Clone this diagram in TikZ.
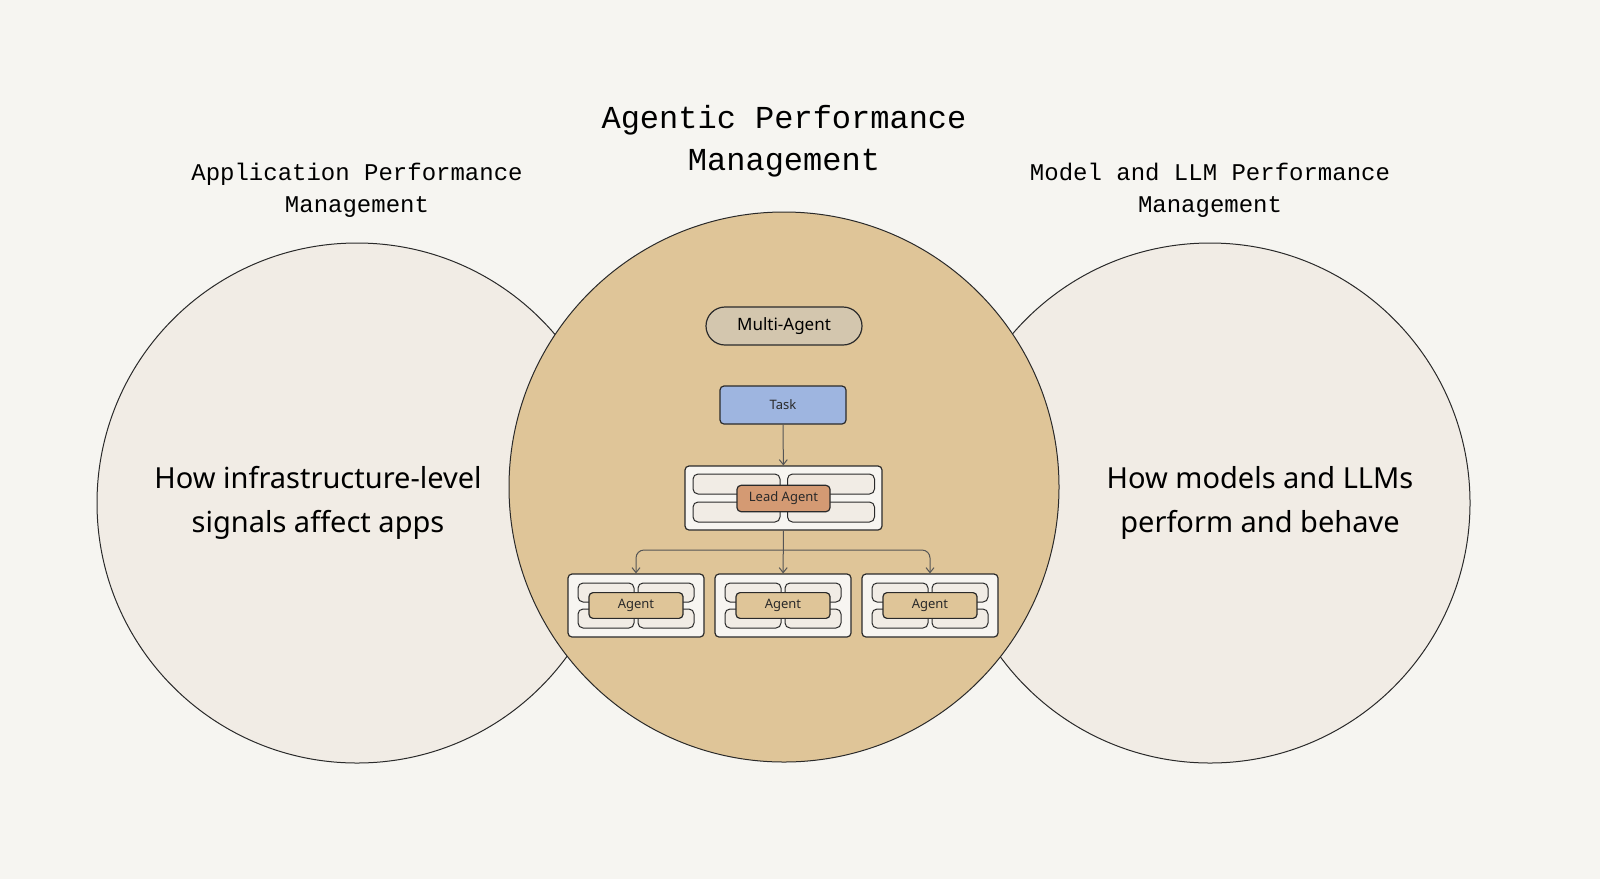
\documentclass[tikz,border=0pt]{standalone}
\usepackage{fontspec}
\setmainfont{Noto Sans}
\newfontfamily\monof{Liberation Mono}
\usetikzlibrary{arrows.meta}
\definecolor{bg}{HTML}{F6F5F1}
\definecolor{side}{HTML}{F1ECE5}
\definecolor{mid}{HTML}{DFC598}
\definecolor{pill}{HTML}{D3C6AE}
\definecolor{task}{HTML}{9EB5E0}
\definecolor{lead}{HTML}{D49A73}
\definecolor{cell}{HTML}{F1ECE5}
\definecolor{cont}{HTML}{F7F5F1}
\definecolor{ln}{HTML}{2A2A2A}
\begin{document}
\begin{tikzpicture}[x=0.5pt,y=-0.5pt,
  circ/.style={draw=ln,line width=0.5pt},
  box/.style={draw=ln,line width=0.6pt,rounded corners=2pt},
  cellb/.style={draw=ln,line width=0.5pt,fill=cell,rounded corners=2.5pt},
  arr/.style={draw=ln!80,line width=0.5pt,-{Straight Barb[length=2.5pt,width=4pt]}},
  small/.style={font=\fontsize{6.5}{8}\selectfont,text=ln}]
\fill[bg] (0,0) rectangle (1600,879);
\useasboundingbox (0,0) rectangle (1600,879);
\node[circ,fill=side,circle,minimum size=260pt] (L) at (357,503) {};
\node[circ,fill=side,circle,minimum size=260pt] (R) at (1210,503) {};
\node[circ,fill=mid,circle,minimum size=275pt] (C) at (784,487) {};
\node[font=\monof\fontsize{16}{21}\selectfont,align=center] (tc) at (784,141) {Agentic Performance\\Management};
\node[font=\monof\fontsize{12}{16}\selectfont,align=center] (tl) at (357,190) {Application Performance\\Management};
\node[font=\monof\fontsize{12}{16}\selectfont,align=center] (tr) at (1210,190) {Model and LLM Performance\\Management};
\node[font=\fontsize{14.5}{22}\selectfont,align=center] (bl) at (318,503) {How infrastructure-level\\signals affect apps};
\node[font=\fontsize{14.5}{22}\selectfont,align=center] (br) at (1260,503) {How models and LLMs\\perform and behave};
\node[draw=ln,line width=0.6pt,fill=pill,rounded corners=9.5pt,minimum width=78pt,minimum height=19pt,font=\fontsize{8.5}{10}\selectfont] (ma) at (784,326) {Multi-Agent};
\node[box,fill=task,minimum width=63pt,minimum height=19pt,small] (task) at (783,405) {Task};
% lead container
\node[box,fill=cont,minimum width=98.5pt,minimum height=32pt] (lc) at (783.5,498) {};
\foreach \cx/\cy in {736.5/484,831/484,736.5/512,831/512}{\draw[cellb] (\cx-43.5,\cy-10) rectangle (\cx+43.5,\cy+10);}
\node[box,fill=lead,minimum width=46.5pt,minimum height=12.5pt,small] (lead) at (783.5,498.5) {Lead Agent};
\draw[arr] (task) -- (lc);
% agents
\foreach \n/\x in {a1/636,a2/783,a3/930}{
  \node[box,fill=cont,minimum width=68pt,minimum height=31.5pt] (\n c) at (\x,605.5) {};
  \foreach \dx/\dy in {-30/-13,30/-13,-30/13,30/13}{\draw[cellb] (\x+\dx-28,605.5+\dy-9.5) rectangle (\x+\dx+28,605.5+\dy+9.5);}
  \node[box,fill=mid,minimum width=47pt,minimum height=12.5pt,small] (\n) at (\x,605.5) {Agent};
}
\coordinate (bus) at (783,550);
\draw[arr] (lc) -- (a2c);
\draw[arr,rounded corners=4pt] (bus) -| (a1c);
\draw[arr,rounded corners=4pt] (bus) -| (a3c);
\end{tikzpicture}
\end{document}
